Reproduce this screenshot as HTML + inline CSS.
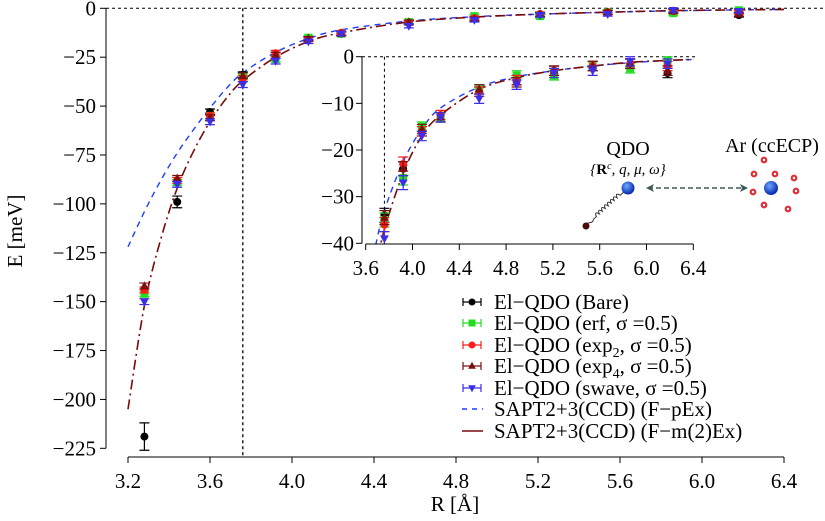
<!DOCTYPE html>
<html><head><meta charset="utf-8"><style>
html,body{margin:0;padding:0;background:#fff;overflow:hidden;width:825px;height:521px;}
svg{display:block;font-family:"Liberation Serif",serif;}
</style></head><body>
<svg id="chart" width="825" height="521" viewBox="0 0 825 521">
<defs>
<radialGradient id="bball" cx="40%" cy="35%" r="60%"><stop offset="0" stop-color="#6fa8ff"/><stop offset="1" stop-color="#0a2fb0"/></radialGradient>
<clipPath id="mainclip"><rect x="106" y="0" width="719" height="457"/></clipPath>
<clipPath id="insetclip"><rect x="362" y="40" width="340" height="204"/></clipPath>
</defs>
<g id="main"></g>
<g id="inset"></g>
<g id="legend"></g>
<g>
<text x="628" y="155" font-size="20" text-anchor="middle">QDO</text>
<text x="628" y="174" font-size="15" font-style="italic" text-anchor="middle">{<tspan font-weight="bold" font-style="normal">R</tspan><tspan baseline-shift="super" font-size="10">c</tspan>, q, μ, ω}</text>
<g transform="translate(586,226) rotate(-42)">
<path d="M0,0 C4,-4 6,4 10,0 L14,0 q2,-6 4,0 q2,-6 4,0 q2,-6 4,0 q2,-6 4,0 q2,-6 4,0 q2,-6 4,0 q2,-6 4,0 q2,-6 4,0 L52,0" fill="none" stroke="#333" stroke-width="1"/>
</g>
<circle cx="586" cy="226" r="3.5" fill="#4a0a0a"/>
<circle cx="628" cy="188" r="6.5" fill="url(#bball)"/>
<line x1="648" y1="188" x2="746" y2="188" stroke="#3d5a55" stroke-width="1.5" stroke-dasharray="5,3"/>
<path d="M646,188 l8,-4 l-2,4 l2,4z M748,188 l-8,-4 l2,4 l-2,4z" fill="#3d5a55"/>
<text x="772" y="152" font-size="20" text-anchor="middle">Ar (ccECP)</text>
<circle cx="771" cy="188" r="7" fill="url(#bball)"/>
<g fill="#fff" stroke="#e0303a" stroke-width="2.2">
<circle cx="764" cy="160" r="2.3"/><circle cx="754" cy="174" r="2.3"/><circle cx="775" cy="174" r="2.3"/><circle cx="794" cy="178" r="2.3"/><circle cx="753" cy="192" r="2.3"/><circle cx="796" cy="191" r="2.3"/><circle cx="764" cy="205" r="2.3"/><circle cx="788" cy="209" r="2.3"/></g>
</g>
</svg>
<script>
const R = [3.28,3.44,3.60,3.76,3.92,4.08,4.24,4.57,4.89,5.21,5.54,5.86,6.18];
const bare  = [-219,-99,-53,-34,-24,-16,-13,-7.5,-5,-3,-2,-1.5,-3.5];
const erf   = [-146,-89,-55,-35,-26,-15,-13,-7,-4,-4,-2,-2.5,-1];
const exp2  = [-144,-88,-55,-36,-23,-16,-12.5,-7.5,-5,-3,-2,-1.5,-2];
const exp4  = [-142,-87,-56,-34.5,-24,-15.5,-13,-7,-5.5,-3,-2,-1.5,-3];
const swave = [-150,-90,-58,-39,-27,-17,-13,-9,-6,-3.5,-3,-1,-1.5];
const errBare = [7,3,1.5,1.5,1.5,1,1,1,1,1,1,1,1];
const errOther = [1.5,1.5,1.5,1.5,1.5,1,1,1,1,1,1,1,1];
const curveR = [3.2,3.28,3.36,3.44,3.52,3.6,3.68,3.76,3.92,4.08,4.24,4.57,4.89,5.21,5.54,5.86,6.18,6.4];
const pEx   = [-122,-104,-88,-74,-62,-51,-41,-33,-22.5,-15.5,-11,-6.5,-4.3,-3,-2,-1.3,-0.8,-0.6];
const m2Ex  = [-205,-152,-118,-92,-73,-58,-46,-37,-25,-17,-12.5,-7,-4.5,-3,-2,-1.2,-0.8,-0.6];
const mainYTicks = [0,-25,-50,-75,-100,-125,-150,-175,-200,-225];
const mainXTicks = ["3.2","3.6","4.0","4.4","4.8","5.2","5.6","6.0","6.4"];
const insetYTicks = [0,-10,-20,-30,-40];
const insetXTicks = ["3.6","4.0","4.4","4.8","5.2","5.6","6.0","6.4"];
const eqR = 3.76;

const NS="http://www.w3.org/2000/svg";
function mk(tag,attrs,parent){const e=document.createElementNS(NS,tag);for(const k in attrs)e.setAttribute(k,attrs[k]);parent.appendChild(e);return e;}
const mx=r=>128+(r-3.2)*205, my=v=>8.3-v*1.9556;
const ix=r=>365.7+(r-3.6)*117, iy=v=>56.7-v*4.665;

function smooth(xs,ys){let d=`M${xs[0]},${ys[0]}`;for(let i=0;i<xs.length-1;i++){const x0=xs[Math.max(i-1,0)],y0=ys[Math.max(i-1,0)],x3=xs[Math.min(i+2,xs.length-1)],y3=ys[Math.min(i+2,xs.length-1)];const c1x=xs[i]+(xs[i+1]-x0)/6,c1y=ys[i]+(ys[i+1]-y0)/6,c2x=xs[i+1]-(x3-xs[i])/6,c2y=ys[i+1]-(y3-ys[i])/6;d+=` C${c1x},${c1y} ${c2x},${c2y} ${xs[i+1]},${ys[i+1]}`;}return d;}

const series=[
 {name:"bare",vals:bare,err:errBare,color:"#000",shape:"circle",label:"El\u2212QDO (Bare)"},
 {name:"erf",vals:erf,err:errOther,color:"#22dd22",shape:"square",label:"El\u2212QDO (erf, \u03c3 =0.5)"},
 {name:"exp2",vals:exp2,err:errOther,color:"#ff1a1a",shape:"circle",label:"exp2"},
 {name:"exp4",vals:exp4,err:errOther,color:"#7a1010",shape:"tri",label:"exp4"},
 {name:"swave",vals:swave,err:errOther,color:"#3a2ee8",shape:"tridown",label:"El\u2212QDO (swave, \u03c3 =0.5)"}];

function marker(g,shape,x,y,c,s){
 if(shape==="circle")return mk("circle",{cx:x,cy:y,r:s,fill:c},g);
 if(shape==="square")return mk("rect",{x:x-s,y:y-s,width:2*s,height:2*s,fill:c},g);
 if(shape==="tri")return mk("path",{d:`M${x},${y-s*1.2} L${x+s*1.1},${y+s*0.8} L${x-s*1.1},${y+s*0.8}Z`,fill:c},g);
 return mk("path",{d:`M${x},${y+s*1.2} L${x+s*1.1},${y-s*0.8} L${x-s*1.1},${y-s*0.8}Z`,fill:c},g);
}

function drawPanel(g,fx,fy,clip,xFrom,ms,cap){
 const cg=mk("g",{"clip-path":`url(#${clip})`},g);
 const p1=mk("path",{d:smooth(curveR.map(fx),pEx.map(fy)),fill:"none",stroke:"#1f3cff","stroke-width":1.4,"stroke-dasharray":"6,5"},cg);
 
 
 const p2=mk("path",{d:smooth(curveR.map(fx),m2Ex.map(fy)),fill:"none",stroke:"#7a0a0a","stroke-width":1.6,"stroke-dasharray":"10,4,2,4"},cg);
 
 
 series.forEach(s=>{
  R.forEach((r,i)=>{
   if(r<xFrom)return;
   const x=fx(r),y=fy(s.vals[i]),e=s.err[i];
   const y1=fy(s.vals[i]+e),y2=fy(s.vals[i]-e);
   const eb=mk("path",{d:`M${x},${y1}V${y2}M${x-cap},${y1}h${2*cap}M${x-cap},${y2}h${2*cap}`,stroke:s.color,"stroke-width":1.2,fill:"none"},cg);
   
   
   const m=marker(cg,s.shape,x,y,s.color,ms);
   
   
  });
 });
}

const main=document.getElementById("main");
mk("line",{x1:106,y1:8.3,x2:825,y2:8.3,stroke:"#000","stroke-dasharray":"3,3"},main);
mk("line",{x1:mx(eqR),y1:8.3,x2:mx(eqR),y2:457,stroke:"#000","stroke-dasharray":"3,3","stroke-width":1.3},main);
drawPanel(main,mx,my,"mainclip",0,4,5);
mk("line",{x1:106,y1:my(0),x2:106,y2:my(-225),stroke:"#000"},main);
mainYTicks.forEach(v=>{mk("line",{x1:100,y1:my(v),x2:106,y2:my(v),stroke:"#000"},main);
 const t=mk("text",{x:96,y:my(v)+7,"font-size":21,"text-anchor":"end"},main);t.textContent=v===0?"0":"\u2212"+(-v);
 });
mk("line",{x1:mx(3.2),y1:457,x2:mx(6.4),y2:457,stroke:"#000"},main);
mainXTicks.forEach(v=>{const x=mx(parseFloat(v));mk("line",{x1:x,y1:457,x2:x,y2:463,stroke:"#000"},main);
 const t=mk("text",{x:x,y:488,"font-size":21,"text-anchor":"middle"},main);t.textContent=v;
 });
const yt=mk("text",{x:0,y:0,"font-size":21,"text-anchor":"middle",transform:"translate(22,231) rotate(-90)"},main);yt.textContent="E [meV]";

const xt=mk("text",{x:455,y:511,"font-size":21,"text-anchor":"middle"},main);xt.textContent="R [\u00c5]";


const inset=document.getElementById("inset");
mk("rect",{x:315,y:45,width:400,height:238,fill:"#fff"},inset);
mk("line",{x1:362,y1:iy(0),x2:695,y2:iy(0),stroke:"#000","stroke-dasharray":"3,3"},inset);
mk("line",{x1:ix(eqR),y1:iy(0),x2:ix(eqR),y2:244,stroke:"#000","stroke-dasharray":"3,3"},inset);
drawPanel(inset,ix,iy,"insetclip",3.7,4,5);
mk("line",{x1:362,y1:iy(0),x2:362,y2:iy(-40),stroke:"#000"},inset);
insetYTicks.forEach(v=>{mk("line",{x1:356,y1:iy(v),x2:362,y2:iy(v),stroke:"#000"},inset);
 const t=mk("text",{x:354,y:iy(v)+7,"font-size":21,"text-anchor":"end"},inset);t.textContent=v===0?"0":"\u2212"+(-v);
 });
mk("line",{x1:ix(3.6),y1:244,x2:ix(6.4),y2:244,stroke:"#000"},inset);
insetXTicks.forEach(v=>{const x=ix(parseFloat(v));mk("line",{x1:x,y1:244,x2:x,y2:250,stroke:"#000"},inset);
 const t=mk("text",{x:x,y:275,"font-size":21,"text-anchor":"middle"},inset);t.textContent=v;
 });

const lg=document.getElementById("legend");
const rowY=[302,323,345,366,388,409,431];
series.forEach((s,i)=>{const y=rowY[i];
 const g=mk("g",{},lg);
 
 
 mk("path",{d:`M463,${y}H481M463,${y-4}V${y+4}M481,${y-4}V${y+4}`,stroke:s.color,"stroke-width":1.2,fill:"none"},g);
 marker(g,s.shape,472,y,s.color,3.5);
 const t=mk("text",{x:494,y:y+7,"font-size":21},g);
 if(s.name==="exp2"||s.name==="exp4"){t.innerHTML=`El\u2212QDO (exp<tspan font-size="14" dy="5">${s.name[3]}</tspan><tspan dy="-5">, \u03c3 =0.5)</tspan>`;}
 else t.textContent=s.label;
});
[["sapt-f-pex","#1f3cff","5,5","SAPT2+3(CCD) (F\u2212pEx)"],["sapt-f-m2ex","#7a0a0a","none","SAPT2+3(CCD) (F\u2212m(2)Ex)"]].forEach((d,k)=>{
 const y=rowY[5+k];const g=mk("g",{},lg);
 
 
 mk("line",{x1:462,y1:y,x2:483,y2:y,stroke:d[1],"stroke-width":1.5,"stroke-dasharray":d[2]},g);
 const t=mk("text",{x:494,y:y+7,"font-size":21},g);t.textContent=d[3];});
</script>
</body></html>
